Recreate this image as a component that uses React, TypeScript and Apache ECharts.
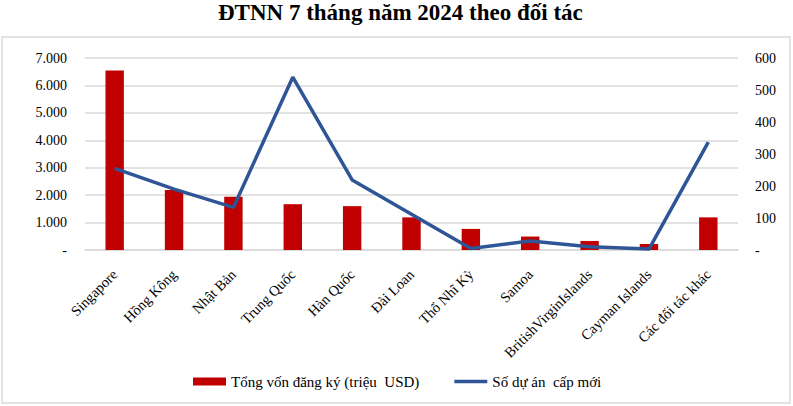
import React, { useEffect, useRef } from "react";
import * as echarts from "echarts";

const categories = [
  "Singapore",
  "Hồng Kông",
  "Nhật Bản",
  "Trung Quốc",
  "Hàn Quốc",
  "Đài Loan",
  "Thổ Nhĩ Kỳ",
  "Samoa",
  "BritishVirginIslands",
  "Cayman Islands",
  "Các đối tác khác",
];
const capital = [6540, 2190, 1940, 1670, 1600, 1190, 770, 490, 330, 220, 1190];
const projects = [255, 190, 133, 540, 219, 112, 5, 28, 10, 3, 337];

const FONT = "Liberation Serif";

const fmtThousands = (v: number) =>
  v === 0 ? "-" : String(Math.round(v)).replace(/\B(?=(\d{3})+(?!\d))/g, ".");

export default function App() {
  const ref = useRef<HTMLDivElement>(null);
  useEffect(() => {
    if (!ref.current) return;
    const chart = echarts.init(ref.current, undefined, { renderer: "svg" });
    chart.setOption({
      animation: false,
      backgroundColor: "#ffffff",
      textStyle: { fontFamily: FONT },
      title: {
        text: "ĐTNN 7 tháng năm 2024 theo đối tác",
        left: 218,
        top: 1,
        padding: 0,
        textStyle: { fontFamily: FONT, fontSize: 23, fontWeight: "bold", color: "#000" },
      },
      graphic: [
        {
          type: "rect",
          shape: { x: 2, y: 37, width: 788, height: 366 },
          style: { fill: "none", stroke: "#d9d9d9", lineWidth: 1.5 },
          silent: true,
        },
      ],
      legend: {
        left: 188,
        top: 369,
        itemWidth: 33,
        itemHeight: 8,
        itemGap: 35,
        textStyle: { fontFamily: FONT, fontSize: 15, color: "#000" },
        data: [
          { name: "Tổng vốn đăng ký (triệu  USD)", icon: "rect" },
          { name: "Số dự án  cấp mới", icon: "path://M0 0 H33 V3.5 H0 Z" },
        ],
      },
      grid: { left: 85, right: 55, top: 58, bottom: 156 },
      xAxis: {
        type: "category",
        data: categories,
        boundaryGap: true,
        axisLine: { show: true, lineStyle: { color: "#d9d9d9", width: 1.5 } },
        axisTick: { show: false },
        axisLabel: {
          rotate: 45,
          interval: 0,
          margin: 22,
          fontFamily: FONT,
          fontSize: 14.5,
          color: "#000",
        },
      },
      yAxis: [
        {
          type: "value",
          min: 0,
          max: 7000,
          interval: 1000,
          axisLine: { show: false },
          axisTick: { show: false },
          splitLine: { show: true, lineStyle: { color: "#d9d9d9", width: 1.5 } },
          axisLabel: {
            margin: 18,
            fontFamily: FONT,
            fontSize: 14,
            color: "#000",
            formatter: (v: number) => fmtThousands(v),
          },
        },
        {
          type: "value",
          min: 0,
          max: 600,
          interval: 100,
          axisLine: { show: false },
          axisTick: { show: false },
          splitLine: { show: false },
          axisLabel: {
            margin: 17,
            fontFamily: FONT,
            fontSize: 14,
            color: "#000",
            formatter: (v: number) => (v === 0 ? "-" : String(v)),
          },
        },
      ],
      series: [
        {
          name: "Tổng vốn đăng ký (triệu  USD)",
          type: "bar",
          yAxisIndex: 0,
          data: capital,
          barWidth: "31%",
          itemStyle: { color: "#C00000" },
        },
        {
          name: "Số dự án  cấp mới",
          type: "line",
          yAxisIndex: 1,
          data: projects,
          symbol: "none",
          lineStyle: { color: "#2F5597", width: 3.5 },
          itemStyle: { color: "#2F5597" },
        },
      ],
    });
    return () => chart.dispose();
  }, []);
  return (
    <div
      ref={ref}
      style={{ position: "fixed", left: 0, top: 0, width: 793, height: 406 }}
    />
  );
}
